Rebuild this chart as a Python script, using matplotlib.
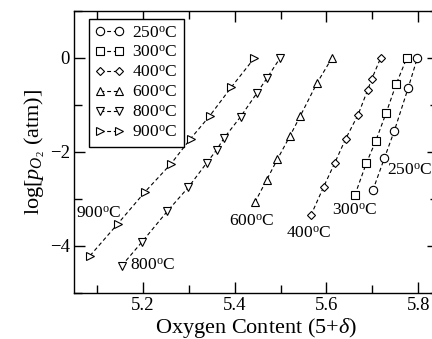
import numpy as np
import matplotlib
matplotlib.use("Agg")
import matplotlib.pyplot as plt
from matplotlib.ticker import MultipleLocator

plt.rcParams['font.family'] = ['Liberation Serif', 'DejaVu Serif']
plt.rcParams['mathtext.fontset'] = 'custom'
plt.rcParams['mathtext.rm'] = 'Liberation Serif'
plt.rcParams['mathtext.it'] = 'Liberation Serif:italic'

# oxygen content vs log pO2 for each anneal temperature
x_250 = [5.701, 5.726, 5.748, 5.778, 5.798]
y_250 = [-2.817, -2.136, -1.547, -0.638, 0.0]

x_300 = [5.662, 5.687, 5.707, 5.730, 5.752, 5.775]
y_300 = [-2.915, -2.234, -1.774, -1.170, -0.553, 0.0]

x_400 = [5.566, 5.594, 5.618, 5.642, 5.669, 5.690, 5.699, 5.718]
y_400 = [-3.349, -2.738, -2.234, -1.717, -1.206, -0.674, -0.440, 0.0]

x_600 = [5.444, 5.470, 5.493, 5.520, 5.543, 5.579, 5.612]
y_600 = [-3.072, -2.589, -2.157, -1.668, -1.234, -0.540, 0.0]

x_800 = [5.154, 5.198, 5.253, 5.299, 5.339, 5.361, 5.377, 5.413, 5.448, 5.470, 5.499]
y_800 = [-4.419, -3.915, -3.264, -2.753, -2.234, -1.951, -1.702, -1.249, -0.753, -0.434, 0.0]

x_900 = [5.085, 5.145, 5.205, 5.261, 5.304, 5.346, 5.393, 5.443]
y_900 = [-4.206, -3.532, -2.845, -2.255, -1.717, -1.228, -0.617, 0.0]

temps = ["250", "300", "400", "600", "800", "900"]
markers = ["o", "s", "D", "^", "v", ">"]
msizes = [6, 5.5, 4.5, 6, 6, 6]
series = [(x_250, y_250), (x_300, y_300), (x_400, y_400),
          (x_600, y_600), (x_800, y_800), (x_900, y_900)]

# where the temperature tags sit next to each curve
tag_pos = [(5.781, -2.40), (5.661, -3.25), (5.561, -3.74),
           (5.438, -3.48), (5.222, -4.42), (5.103, -3.31)]

fig = plt.figure(figsize=(4.32, 3.39), dpi=100)
ax = fig.add_axes([74/432, 46/339, 364/432, 282/339])

for (xs, ys), t, m, ms in zip(series, temps, markers, msizes):
    ax.plot(xs, ys, ls=(0, (3.5, 2.5)), lw=0.8, color='black', marker=m,
            ms=ms, mfc='white', mec='black', mew=0.8,
            label=t + r'$^\mathrm{o}$C')

for t, (tx, ty) in zip(temps, tag_pos):
    ax.text(tx, ty, t + r'$^\mathrm{o}$C', fontsize=12.5, ha='center', va='center')

ax.set_xlim(5.05, 5.843)
ax.set_ylim(-5, 1)
ax.xaxis.set_major_locator(MultipleLocator(0.2))
ax.xaxis.set_minor_locator(MultipleLocator(0.1))
ax.yaxis.set_major_locator(MultipleLocator(2))
ax.yaxis.set_minor_locator(MultipleLocator(1))
ax.set_xticks([5.2, 5.4, 5.6, 5.8])
ax.tick_params(which='both', direction='in', top=True, right=True,
               labelsize=13.5, width=1, pad=3)
ax.tick_params(which='major', length=8)
ax.tick_params(which='minor', length=6)
for s in ax.spines.values():
    s.set_linewidth(1)

ax.set_xlabel(r'Oxygen Content (5+$\delta$)', fontsize=16, labelpad=1)
ax.set_ylabel(r'log[$p_{O_2}$ (atm)]', fontsize=16, labelpad=2)

leg = ax.legend(loc='upper left', bbox_to_anchor=(0.041, 0.972), fontsize=12.5,
                numpoints=2, handlelength=1.7, handletextpad=0.45,
                labelspacing=0.22, borderpad=0.35, borderaxespad=0,
                fancybox=False, framealpha=1, edgecolor='black')
leg.get_frame().set_linewidth(1)

fig.savefig('out.png', dpi=100)
